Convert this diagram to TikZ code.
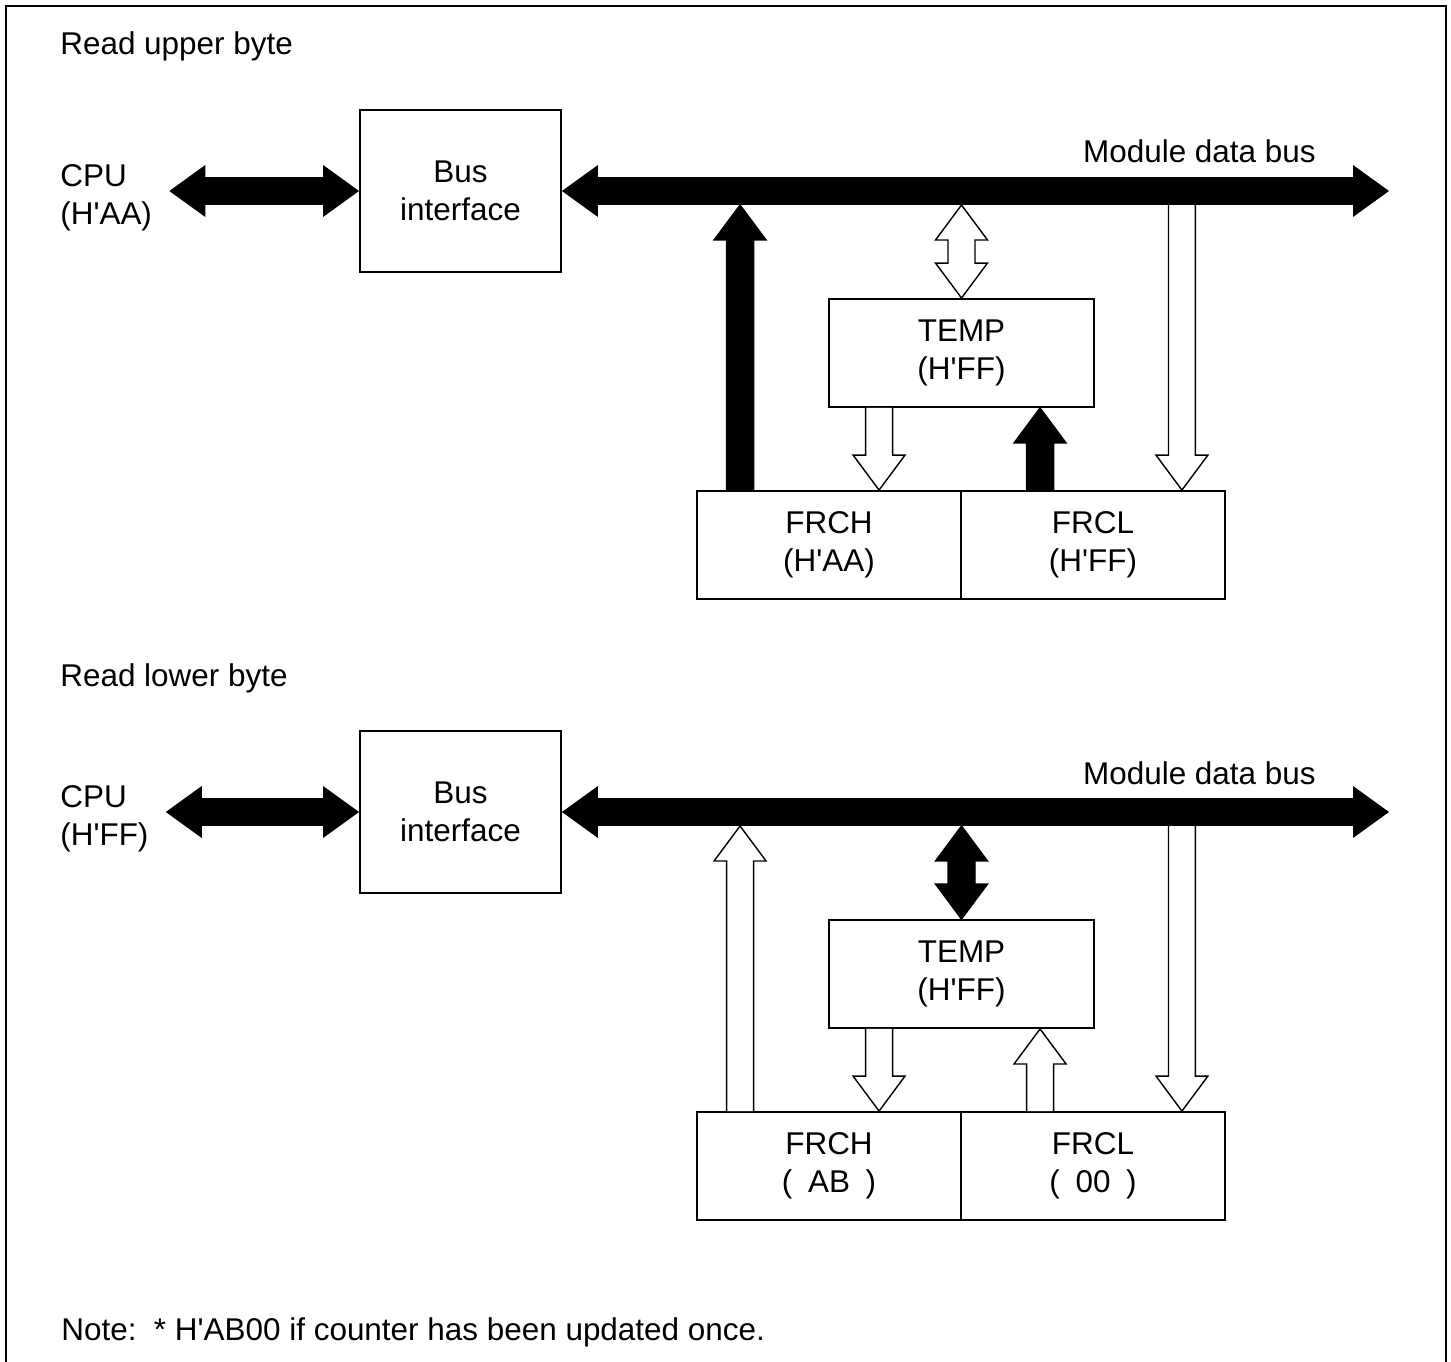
\documentclass[tikz,border=0pt]{standalone}
\usepackage{fontspec}
\setmainfont{Liberation Sans}
\usepackage{tikz}
\usetikzlibrary{arrows.meta,calc}

\newcommand{\headlen}{0.7cm}
\newcommand{\headwid}{0.52cm}
\newcommand{\shaftwid}{0.27cm}
\newcommand{\apos}{\textquotesingle}

% vertical block arrow: style, tail, tip
\newcommand{\fatarrow}[3]{%
  \path[#1] ($#2+(-\shaftwid,0)$) -- ($#3!\headlen!#2+(-\shaftwid,0)$)
    -- ($#3!\headlen!#2+(-\headwid,0)$) -- #3 -- ($#3!\headlen!#2+(\headwid,0)$)
    -- ($#3!\headlen!#2+(\shaftwid,0)$) -- ($#2+(\shaftwid,0)$);}
% vertical block arrow with two heads
\newcommand{\fatboth}[3]{%
  \path[#1] #2 -- ($#2!\headlen!#3+(\headwid,0)$) -- ($#2!\headlen!#3+(\shaftwid,0)$)
    -- ($#3!\headlen!#2+(\shaftwid,0)$) -- ($#3!\headlen!#2+(\headwid,0)$) -- #3
    -- ($#3!\headlen!#2+(-\headwid,0)$) -- ($#3!\headlen!#2+(-\shaftwid,0)$)
    -- ($#2!\headlen!#3+(-\shaftwid,0)$) -- ($#2!\headlen!#3+(-\headwid,0)$) -- cycle;}

\begin{document}
\begin{tikzpicture}[
    x=0.02cm, y=-0.02cm,
    every node/.style={font=\fontsize{17.9}{21.6}\selectfont},
    box/.style={rectangle, draw, line width=1.1pt, align=center, inner sep=0pt},
    txt/.style={inner sep=0pt, align=left},
    filled/.style={fill=black, draw=black, line width=0.8pt},
    hollow/.style={fill=white, draw=black, line width=0.8pt},
    bigbus/.style={line width=0.56cm,
      {Triangle[length=0.72cm,width=1.04cm,line width=0pt]}-{Triangle[length=0.72cm,width=1.04cm,line width=0pt]}}
]
    \useasboundingbox (0,0) rectangle (1451,1362);
    \draw[line width=1.1pt] (6,1362) -- (6,6) -- (1446,6) -- (1446,1362);

    % read upper byte
    \node[txt, anchor=base west] (title1) at (60,55) {Read upper byte};
    \node[txt, anchor=west] (cpu1) at (60,198) {CPU\\(H\apos AA)};
    \node[box, minimum width=4.02cm, minimum height=3.24cm] (bif1) at (460.5,191) {Bus\\interface};
    \node[txt, anchor=base east] (mdb1) at (1316,163) {Module data bus};
    \node[box, minimum width=5.3cm, minimum height=2.16cm] (temp1) at (961.5,353) {TEMP\\(H\apos FF)};
    \node[box, minimum width=5.28cm, minimum height=2.16cm] (frch1) at (829,545) {FRCH\\(H\apos AA)};
    \node[box, minimum width=5.28cm, minimum height=2.16cm] (frcl1) at (1093,545) {FRCL\\(H\apos FF)};
    \coordinate (busend1) at (1389,191);

    \draw[bigbus] ([xshift=0.34cm]cpu1.east |- bif1.west) -- (bif1.west);
    \draw[bigbus] (bif1.east) -- (busend1);

    \coordinate (hup1) at ($(frch1.north west)+(44,0)$);
    \coordinate (hbus1) at ($(hup1 |- bif1.east)+(0,14)$);
    \coordinate (tbus1) at ($(temp1.north |- bif1.east)+(0,14)$);
    \coordinate (tdown1) at ($(temp1.south west)+(51,0)$);
    \coordinate (lup1) at ($(frcl1.north west)+(80,0)$);
    \coordinate (ldown1) at ($(frcl1.north east)+(-44,0)$);
    \coordinate (lbus1) at ($(ldown1 |- bif1.east)+(0,14)$);

    \fatarrow{filled}{(hup1)}{(hbus1)}
    \fatboth{hollow}{(tbus1)}{(temp1.north)}
    \fatarrow{hollow}{(tdown1)}{(tdown1 |- frch1.north)}
    \fatarrow{filled}{(lup1)}{(lup1 |- temp1.south)}
    \fatarrow{hollow}{(lbus1)}{(ldown1)}

    % read lower byte
    \node[txt, anchor=base west] (title2) at (60,686) {Read lower byte};
    \node[txt, anchor=west] (cpu2) at (60,819) {CPU\\(H\apos FF)};
    \node[box, minimum width=4.02cm, minimum height=3.24cm] (bif2) at (460.5,812) {Bus\\interface};
    \node[txt, anchor=base east] (mdb2) at (1316,784) {Module data bus};
    \node[box, minimum width=5.3cm, minimum height=2.16cm] (temp2) at (961.5,974) {TEMP\\(H\apos FF)};
    \node[box, minimum width=5.28cm, minimum height=2.16cm] (frch2) at (829,1166) {FRCH\\(\hspace{0.5em}AB\hspace{0.5em})};
    \node[box, minimum width=5.28cm, minimum height=2.16cm] (frcl2) at (1093,1166) {FRCL\\(\hspace{0.5em}00\hspace{0.5em})};
    \coordinate (busend2) at (1389,812);

    \draw[bigbus] ([xshift=0.34cm]cpu2.east |- bif2.west) -- (bif2.west);
    \draw[bigbus] (bif2.east) -- (busend2);

    \coordinate (hup2) at ($(frch2.north west)+(44,0)$);
    \coordinate (hbus2) at ($(hup2 |- bif2.east)+(0,14)$);
    \coordinate (tbus2) at ($(temp2.north |- bif2.east)+(0,14)$);
    \coordinate (tdown2) at ($(temp2.south west)+(51,0)$);
    \coordinate (lup2) at ($(frcl2.north west)+(80,0)$);
    \coordinate (ldown2) at ($(frcl2.north east)+(-44,0)$);
    \coordinate (lbus2) at ($(ldown2 |- bif2.east)+(0,14)$);

    \fatarrow{hollow}{(hup2)}{(hbus2)}
    \fatboth{filled}{(tbus2)}{(temp2.north)}
    \fatarrow{hollow}{(tdown2)}{(tdown2 |- frch2.north)}
    \fatarrow{hollow}{(lup2)}{(lup2 |- temp2.south)}
    \fatarrow{hollow}{(lbus2)}{(ldown2)}

    \node[txt, anchor=base west] (note) at (61,1340) {Note:\ \ * H\apos AB00 if counter has been updated once.};
\end{tikzpicture}
\end{document}
